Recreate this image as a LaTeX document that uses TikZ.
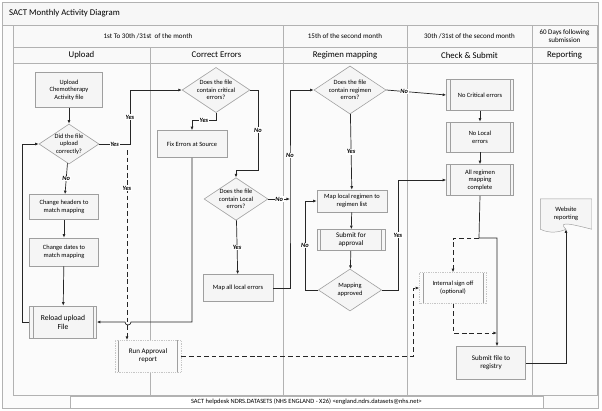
\documentclass[tikz,border=0pt]{standalone}
\usepackage{fontspec}
\setmainfont{Carlito}
\usetikzlibrary{shapes.geometric,arrows.meta,positioning}
\tikzset{
  box/.style={rectangle, draw=gray!75, fill=gray!8, line width=0.5pt, align=center,
    font=\fontsize{5.5}{6.5}\selectfont, inner sep=1pt},
  pre/.style={box, path picture={
    \draw[gray!75, solid] ([xshift=3pt]path picture bounding box.north west) -- ([xshift=3pt]path picture bounding box.south west);
    \draw[gray!75, solid] ([xshift=-3pt]path picture bounding box.north east) -- ([xshift=-3pt]path picture bounding box.south east);}},
  dotpre/.style={pre, draw=gray!45, densely dotted, fill=gray!4},
  dec/.style={diamond, draw=gray!75, fill=gray!8, line width=0.5pt, align=center,
    font=\fontsize{5.5}{6.5}\selectfont, inner sep=0pt, aspect=1.5, minimum width=1.9cm, minimum height=1.26cm},
  lane/.style={draw=gray!60, line width=0.4pt},
  head/.style={draw=gray!60, fill=gray!5, font=\fontsize{6}{7}\selectfont, align=center},
  flow/.style={draw=gray!30!black, line width=0.6pt, -{Latex[length=3pt,width=2.5pt]}},
  dflow/.style={flow, dashed, dash pattern=on 4pt off 2.5pt},
  lbl/.style={font=\fontsize{5.5}{6.5}\selectfont\bfseries\itshape, fill=white, inner sep=0.5pt}
}
\begin{document}
\begin{tikzpicture}[x=0.03cm, y=-0.03cm]
\useasboundingbox (0,0) rectangle (602,410);

% frame and lanes
\draw[lane, fill=gray!3] (2,2) rectangle (598,408);
\draw[head, fill=gray!6] (2,2) rectangle (598,25);
\node[anchor=west, font=\fontsize{7.5}{8}\selectfont] (title) at (5,13.5) {SACT Monthly Activity Diagram};
\draw[lane] (13,25) rectangle (597,395);
\draw[head] (13,25) rectangle (283,47);
\draw[head] (283,25) rectangle (407,47);
\draw[head] (407,25) rectangle (532,47);
\draw[head] (532,25) rectangle (597,47);
\node[font=\fontsize{6}{7}\selectfont] (p1) at (148,36) {1st To 30th /31st \ of the month};
\node[font=\fontsize{6}{7}\selectfont] (p2) at (345,36) {15th of the second month};
\node[font=\fontsize{6}{7}\selectfont] (p3) at (469.5,36) {30th /31st of the second month};
\node[font=\fontsize{6}{7}\selectfont, align=center] (p4) at (564.5,36) {60 Days following\\submission};
\foreach \a/\b/\t in {13/150/Upload, 150/283/Correct Errors, 283/407/Regimen mapping, 407/532/Check \& Submit, 532/597/Reporting}{
  \draw[head] (\a,47) rectangle (\b,63);
  \node[font=\fontsize{7.5}{8}\selectfont] at ({(\a+\b)/2},55) {\t};
  \draw[lane] (\b,63) -- (\b,395);
}
\node[draw=gray!60, fill=white, minimum width=14.19cm, minimum height=0.36cm, inner sep=0pt,
  font=\fontsize{5.5}{6}\selectfont] (help) at (306.5,402) {SACT helpdesk NDRS.DATASETS (NHS ENGLAND - X26) <england.ndrs.datasets@nhs.net>};

% upload lane
\node[box, minimum width=2.01cm, minimum height=1.05cm] (upload) at (69,90) {Upload\\Chemotherapy\\Activity file};
\node[dec, minimum width=1.8cm, minimum height=1.2cm] (did) at (69,144) {Did the file\\upload\\correctly?};
\node[box, minimum width=2.07cm, minimum height=0.75cm] (headers) at (64,207) {Change headers to\\match mapping};
\node[box, minimum width=2.07cm, minimum height=0.84cm] (dates) at (64,252) {Change dates to\\match mapping};
\node[pre, minimum width=2.01cm, minimum height=0.96cm, font=\fontsize{6.5}{7.5}\selectfont] (reload) at (63,322) {Reload upload\\File};
\node[dotpre, minimum width=1.98cm, minimum height=0.96cm, font=\fontsize{6}{7}\selectfont] (approval) at (148,356) {Run Approval\\report};

% correct errors lane
\node[dec] (crit) at (216,90) {Does the file\\contain critical\\errors?};
\node[box, minimum width=2.1cm, minimum height=0.81cm] (fix) at (192,144) {Fix Errors at Source};
\node[dec] (local) at (236,199) {Does the file\\contain Local\\errors?};
\node[box, minimum width=2.1cm, minimum height=0.81cm] (maplocal) at (238,288) {Map all local errors};

% regimen lane
\node[dec] (reg) at (350,90) {Does the file\\contain regimen\\errors?};
\node[box, minimum width=2.1cm, minimum height=0.66cm] (mapreg) at (352,201) {Map local regimen to\\regimen list};
\node[pre, minimum width=2.04cm, minimum height=0.63cm, font=\fontsize{6}{7}\selectfont] (subapp) at (351,240) {Submit for\\approval};
\node[dec] (mapapp) at (350,290) {Mapping\\approved};

% check and submit lane
\node[pre, minimum width=2.01cm, minimum height=0.93cm] (nocrit) at (480,95) {No Critical errors};
\node[pre, minimum width=2.01cm, minimum height=0.9cm] (noloc) at (480,137) {No Local\\errors};
\node[pre, minimum width=2.01cm, minimum height=0.93cm] (allreg) at (480,180) {All regimen\\mapping\\complete};
\node[dotpre, minimum width=2.01cm, minimum height=0.93cm] (signoff) at (453,288) {Internal sign off\\(optional)};
\node[box, minimum width=2.07cm, minimum height=0.99cm, font=\fontsize{6}{7}\selectfont] (subfile) at (491,363) {Submit file to\\registry};

% reporting lane
\node[font=\fontsize{5.5}{6.5}\selectfont, align=center, minimum width=1.53cm, minimum height=0.9cm] (web) at (566,214) {Website\\reporting};
\draw[gray!75, fill=gray!8] (web.south west) -- (web.north west) -- (web.north east) -- (web.south east)
  .. controls (575,225) and (556,220) .. (web.south) .. controls (560,232) and (550,234) .. (web.south west);
\node[font=\fontsize{5.5}{6.5}\selectfont, align=center] at (566,214) {Website\\reporting};

% connectors
\coordinate (j1) at (130,144);
\coordinate (j2) at (258,90);
\coordinate (j3) at (290,199);
\coordinate (j4) at (479,238);
\coordinate (j5) at (497,333);
\path[flow] (upload) -- (did);
\path[flow] (did.east) -- node[lbl]{Yes} (j1) |- node[lbl, pos=0.25]{Yes} (crit.west);
\path[dflow] (127,150) -- node[lbl, pos=0.2]{Yes} (127,340);
\path[flow] (did) -- node[lbl]{No} (headers);
\path[flow] (headers) -- (dates);
\path[flow] (dates) -- (reload);
\path[flow] (reload.west) -- (22,322) |- (did.west);
\path[flow] (crit.south) |- node[lbl, pos=0.75]{Yes} (192,120) -- (fix.north);
\path[flow] (crit.east) -| (j2) -- node[lbl]{No} (258,170) -| (local.north);
\path[flow] (fix.south) |- (131,322) arc (0:180:3) -- (reload.east);
\path[flow] (local) -- node[lbl]{Yes} (maplocal);
\path[flow] (local.east) -- node[lbl]{No} (j3);
\path[flow] (maplocal.east) -| (j3) -- node[lbl, pos=0.4]{No} (290,90) -- (reg.west);
\path[flow] (reg.east) -- node[lbl, pos=0.3]{No} (nocrit.west);
\path[flow] (reg) -- node[lbl]{Yes} (mapreg);
\path[flow] (mapreg) -- (subapp);
\path[flow] (subapp) -- (mapapp);
\path[flow] (mapapp.west) -| node[lbl, pos=0.75]{No} (305,201) -- (mapreg.west);
\path[flow] (mapapp.east) -| node[lbl, pos=0.75]{Yes} (398,180) -- (allreg.west);
\path[flow] (nocrit) -- (noloc);
\path[flow] (noloc) -- (allreg);
\path[flow] (allreg.south) -- (j4) -| (subfile.north -| j5);
\path[dflow] (j4) -| (signoff.north);
\path[dflow] (signoff.south) |- (j5);
\path[dflow] (approval.east) -| (413,288) -- (signoff.west);
\path[flow] (subfile.east) -| (web.south);
\end{tikzpicture}
\end{document}
